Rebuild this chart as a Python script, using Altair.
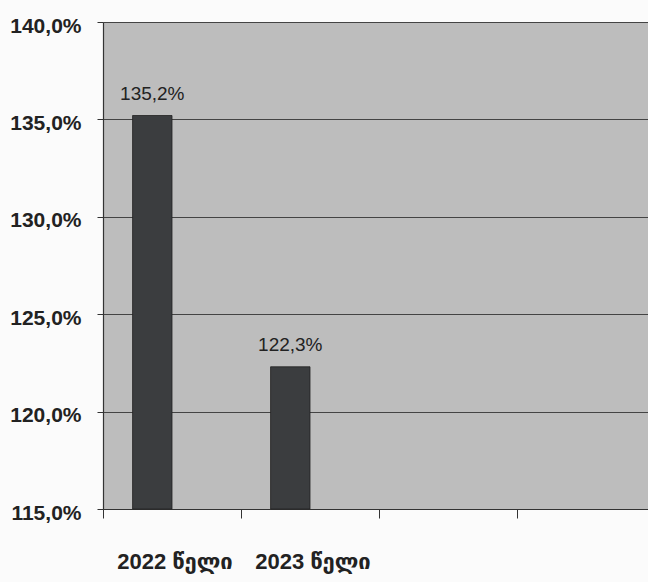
import altair as alt
import pandas as pd

categories = ["2022 წელი", "2023 წელი"]
values = [135.2, 122.3]
empty_slots = [" ", "  "]
y_ticks = [115, 120, 125, 130, 135, 140]

df = pd.DataFrame({"cat": categories, "val": values, "series": ["A", "A"]})

FONT = "Liberation Sans, Arial, DejaVu Sans, sans-serif"

x_enc = alt.X(
    "cat:N",
    scale=alt.Scale(domain=categories + empty_slots, range=[0, 552], paddingInner=0, paddingOuter=0),
    axis=alt.Axis(
        title=None, labelAngle=0, bandPosition=0, labelOffset=3,
        tickSize=9, tickColor="#333333", domainColor="#333333", domainWidth=1.2,
        labelFont=FONT, labelFontSize=22, labelFontWeight="bold", labelColor="#222222",
        labelPadding=33, grid=False,
    ),
)
xoff = alt.XOffset("series:N", scale=alt.Scale(domain=["A", "B"], paddingInner=0, paddingOuter=0.75))
y_enc = alt.Y(
    "val:Q",
    scale=alt.Scale(domain=[115, 140], nice=False, zero=False, clamp=True),
    axis=alt.Axis(
        title=None, values=y_ticks, grid=True, gridColor="#444444", gridWidth=1,
        tickSize=6, tickColor="#333333", domainColor="#333333", domainWidth=1.2,
        labelExpr="replace(format(datum.value, '.1f'), '.', ',') + '%'",
        labelFont=FONT, labelFontSize=21, labelFontWeight="bold", labelColor="#222222",
        labelPadding=16, labelOffset=4,
    ),
)

bars = alt.Chart(df).mark_bar(color="#3b3d3f", stroke="#222222", strokeWidth=0.8).encode(
    x=x_enc, xOffset=xoff, y=y_enc, y2=alt.datum(115)
)

labels = alt.Chart(df).transform_calculate(
    txt="replace(format(datum.val, '.1f'), '.', ',') + '%'"
).mark_text(
    font=FONT, fontSize=19, color="#222222", baseline="alphabetic", dy=-16
).encode(x=x_enc, xOffset=xoff, y=y_enc, text="txt:N")

chart = (bars + labels).properties(
    width=545, height=487,
    autosize=alt.AutoSizeParams(type="none"),
    padding={"left": 103, "top": 22, "right": 0, "bottom": 73},
    background="#fbfbfb",
).configure_view(fill="#bdbdbd", strokeWidth=0)

chart.save("out.html", embed_options={"renderer": "svg", "actions": False})
